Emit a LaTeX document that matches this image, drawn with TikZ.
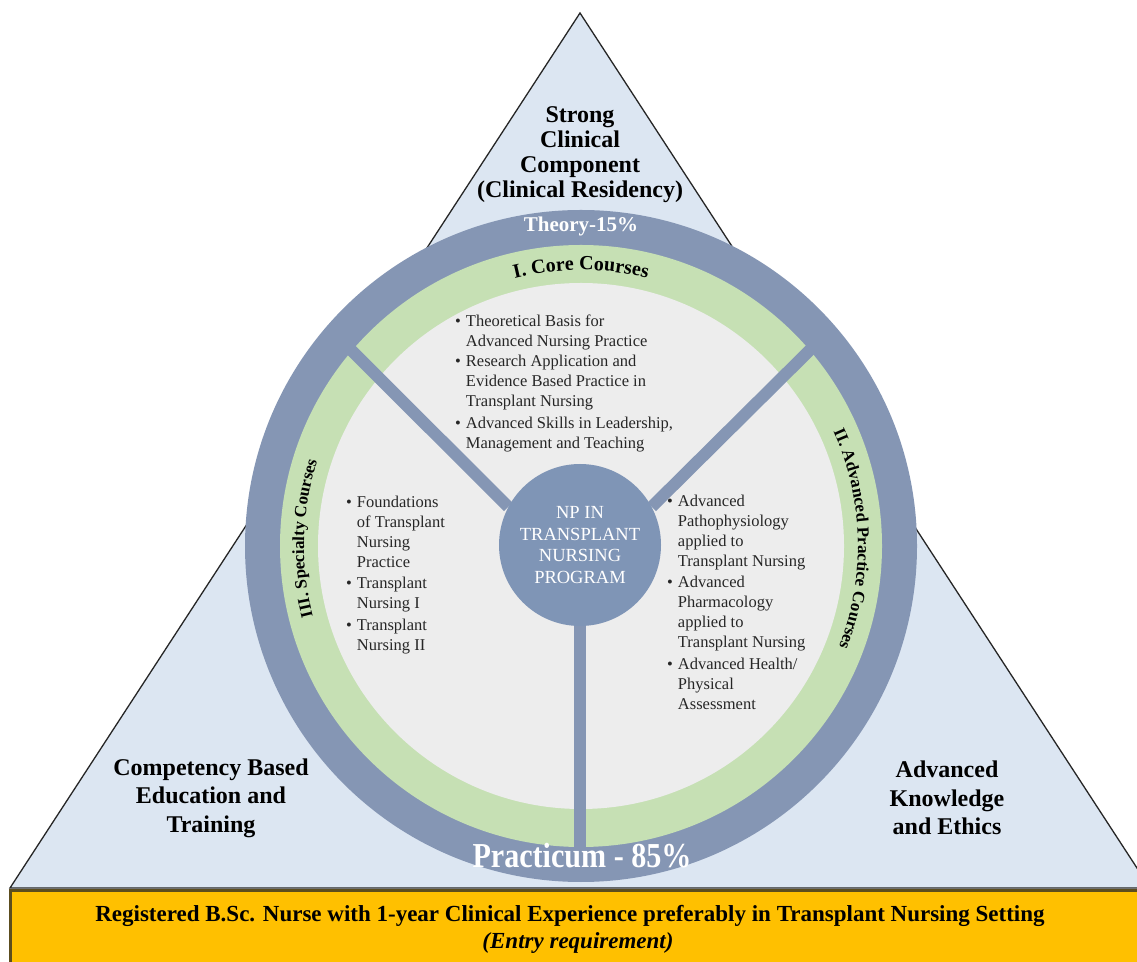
\documentclass[tikz,border=0pt]{standalone}
\usepackage{fontspec}
\setmainfont{Liberation Serif}
\usetikzlibrary{decorations.text}

\definecolor{tri}{HTML}{DCE6F2}
\definecolor{ringdark}{HTML}{8596B4}
\definecolor{hubblue}{HTML}{7F95B6}
\definecolor{ringgreen}{HTML}{C6E0B4}
\definecolor{innergrey}{HTML}{EDEDED}
\definecolor{gold}{HTML}{FFC000}
\definecolor{goldedge}{HTML}{5C4D1E}
\definecolor{listtext}{HTML}{262626}

\pgfdeclarelayer{back}
\pgfdeclarelayer{mid}
\pgfsetlayers{back,mid,main}

\begin{document}
\begin{tikzpicture}[x=1pt,y=1pt,
  cornertext/.style={font=\bfseries\fontsize{24}{28.5}\selectfont, align=center, text=black, inner sep=0},
  listnode/.style={anchor=north west, inner sep=0, text=listtext, font=\fontsize{16.5}{20}\selectfont},
  spoke/.style={draw=ringdark, line width=12pt},
  hubstyle/.style={circle, fill=hubblue, minimum size=162pt, inner sep=0, text=white, align=center, font=\fontsize{18.5}{21.5}\selectfont},
  arclabel/.style={decorate, decoration={text along path, text align=center}},
  boxtext/.style={font=\bfseries\fontsize{23}{27}\selectfont, text=black, inner sep=0}
]
\useasboundingbox (0,0) rectangle (1137,961);
\begin{pgfonlayer}{back}
\clip (0,0) rectangle (1137,961);
\fill[white] (0,0) rectangle (1137,961);
% triangle
\coordinate (apex) at (580,948);
\coordinate (bl) at (10,73);
\coordinate (br) at (1150,73);
\filldraw[fill=tri, draw=black!85, line width=1.3pt] (bl) -- (apex) -- (br) -- cycle;
% rings
\coordinate (O) at (581,415);
\fill[ringdark] (O) circle[radius=336];
\fill[ringgreen] (O) circle[radius=301];
\fill[innergrey] (O) circle[radius=263];
\end{pgfonlayer}

% hub and spokes
\node[hubstyle] (hub) at (580,416) {NP IN\\TRANSPLANT\\NURSING\\PROGRAM};
\coordinate (endUL) at (342,620);
\coordinate (endUR) at (819,620);
\coordinate (endB) at (580,100);
\begin{pgfonlayer}{mid}
\draw[spoke] (hub.152) -- (endUL);
\draw[spoke] (hub.28) -- (endUR);
\draw[spoke] (hub.south) -- (endB);
\end{pgfonlayer}

% ring labels
\node[text=white, font=\bfseries\fontsize{21}{24}\selectfont, inner sep=0] (theory) at (581,735) {Theory-15\%};
\path[arclabel, decoration={text={|\bfseries\fontsize{20}{20}\selectfont|I. Core Courses}}]
  ([shift={(125:276)}]O) arc[start angle=125, end angle=55, radius=276];
\path[arclabel, decoration={text={|\bfseries\fontsize{17}{17}\selectfont|II. Advanced Practice Courses}}]
  ([shift={(41.5:277)}]O) arc[start angle=41.5, end angle=-38.5, radius=277];
\path[arclabel, decoration={text={|\bfseries\fontsize{17}{17}\selectfont|III. Specialty Courses}}]
  ([shift={(218.4:277)}]O) arc[start angle=218.4, end angle=138.4, radius=277];
\node[text=white, font=\bfseries\fontsize{35}{38}\selectfont, inner sep=0, xscale=0.86] (practicum) at (582,105) {Practicum - 85\%};

% lists
\node[listnode] (core) at (455,649) {%
\begin{tabular}{@{}l@{\hspace{5pt}}l@{}}
\textbullet & Theoretical Basis for\\
 & Advanced Nursing Practice\\[0.5pt]
\textbullet & Research Application and\\
 & Evidence Based Practice in\\
 & Transplant Nursing\\[1.5pt]
\textbullet & Advanced Skills in Leadership,\\
 & Management and Teaching
\end{tabular}};
\node[listnode] (spec) at (346,468) {%
\begin{tabular}{@{}l@{\hspace{5pt}}l@{}}
\textbullet & Foundations\\
 & of Transplant\\
 & Nursing\\
 & Practice\\[1.5pt]
\textbullet & Transplant\\
 & Nursing I\\[1.5pt]
\textbullet & Transplant\\
 & Nursing II
\end{tabular}};
\node[listnode] (adv) at (667,469) {%
\begin{tabular}{@{}l@{\hspace{5pt}}l@{}}
\textbullet & Advanced\\
 & Pathophysiology\\
 & applied to\\
 & Transplant Nursing\\[1.5pt]
\textbullet & Advanced\\
 & Pharmacology\\
 & applied to\\
 & Transplant Nursing\\[1.5pt]
\textbullet & Advanced Health/\\
 & Physical\\
 & Assessment
\end{tabular}};

% corner texts
\node[cornertext, font=\bfseries\fontsize{24}{25}\selectfont] (top) at (580,806) {Strong\\Clinical\\Component\\(Clinical Residency)};
\node[cornertext] (left) at (211,163) {Competency Based\\Education and\\Training};
\node[cornertext] (right) at (947,163) {Advanced\\Knowledge\\and Ethics};

% entry box
\filldraw[fill=gold, draw=goldedge, line width=3pt] (10,-5) rectangle (1145,71);
\node[boxtext] (entry) at (570,45) {Registered B.Sc. Nurse with 1-year Clinical Experience preferably in Transplant Nursing Setting};
\node[boxtext, font=\bfseries\itshape\fontsize{23}{27}\selectfont] (entry2) at (578,18) {(Entry requirement)};
\end{tikzpicture}
\end{document}
